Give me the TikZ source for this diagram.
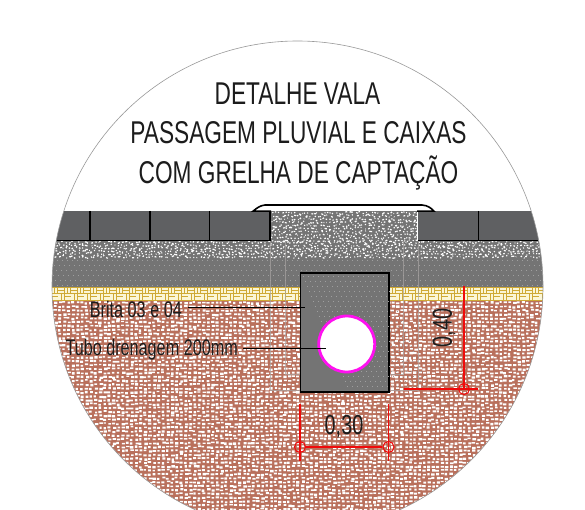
\documentclass[tikz,border=0pt]{standalone}
\usepackage{fontspec}
\setmainfont[FakeStretch=0.72]{Liberation Sans}
\definecolor{soil}{HTML}{B9705C}
\definecolor{paver}{HTML}{5F6062}
\definecolor{concrete}{HTML}{747474}
\definecolor{gold}{HTML}{CFA935}
\definecolor{cream}{HTML}{FBF6D6}
\definecolor{dimred}{HTML}{F00A0A}
\definecolor{pipering}{HTML}{FF10F0}
\definecolor{ghost}{HTML}{A8A4A2}
\definecolor{ink}{HTML}{1C1C1C}
\tikzset{
  heavy/.style={draw=black,line width=1.6pt},
  titletext/.style={font=\fontsize{31.5}{33}\selectfont,text=ink,inner sep=0pt},
  labeltext/.style={font=\fontsize{22.5}{24}\selectfont,text=ink,inner sep=0pt},
  dimtext/.style={font=\fontsize{27.5}{29}\selectfont,text=ink,inner sep=0pt},
  leader/.style={draw=black,line width=0.7pt},
  dimline/.style={draw=dimred,line width=1.7pt},
  ghostline/.style={draw=ghost,line width=0.8pt},
  tick/.style={circle,draw=dimred,line width=1.1pt,minimum size=11pt,inner sep=0pt,fill=none}
}
\begin{document}
\begin{tikzpicture}[x=1pt,y=-1pt]
\useasboundingbox (0,0) rectangle (585,510);
\fill[white] (0,0) rectangle (585,510);
\pgfmathsetseed{11}
\begin{scope}
  \clip (297.5,286.5) circle[radius=245.5pt];
  % soil
  \fill[soil] (40,300) rectangle (550,540);
  \fill[white]
    \foreach \j in {0,...,56} { \foreach \i in {0,...,112} {
      (44+\i*4.5+rnd*1.6,301+\j*3.9+rnd*1.5) rectangle ++({2.2+rnd*1.4},{1.4+rnd*1.1})
    } };
  % concrete and gravel
  \fill[concrete] (40,241) rectangle (550,287);
  \fill[concrete] (271,211) rectangle (417,241);
  \draw[white,line width=1.2pt]
    \foreach \j in {0,...,5} { \foreach \i in {0,...,160} {
      (45+\i*3.2+rnd*2.6,241.5+\j*2.9+rnd*2) -- ++({0.4+rnd*1.5},{-1.1+rnd*2.2})
    } };
  \draw[white,line width=1.2pt]
    \foreach \j in {0,...,9} { \foreach \i in {0,...,45} {
      (271+\i*3.2+rnd*2.6,212+\j*3.1+rnd*2) -- ++({0.4+rnd*1.5},{-1.1+rnd*2.2})
    } };
  \fill[gray!75]
    \foreach \j in {0,...,5} { \foreach \i in {0,...,98} {
      (47+\i*5+\j*2,260+\j*5) rectangle ++(0.9,0.9)
    } };
  % woven band
  \fill[gold] (40,287) rectangle (550,300.6);
  \foreach \i in {0,...,38} {
    \pgfmathsetmacro{\px}{45+\i*13}
    \foreach \c/\dy in {0/0,1/6.4} {
      \pgfmathsetmacro{\qx}{\px+\c*6.5}
      \pgfmathsetmacro{\rx}{\px+6.5-\c*6.5}
      \fill[cream] (\qx+0.2,287.8+\dy) rectangle ++(5.8,2.2);
      \fill[cream] (\qx+0.2,291+\dy) rectangle ++(5.8,2.2);
      \fill[cream] (\rx+0.4,287.8+\dy) rectangle ++(2.2,5.4);
      \fill[cream] (\rx+3.6,287.8+\dy) rectangle ++(2.2,5.4);
    }
  }
  % pavers
  \fill[paver] (40,211) rectangle (269,240.5);
  \fill[paver] (418,211) rectangle (550,240.5);
  \draw[draw=black,line width=1.1pt] (90,211) -- (90,240) (150,211) -- (150,240) (209.5,211) -- (209.5,240) (478.7,211) -- (478.7,240);
  \draw[heavy] (40,240.6) -- (270,240.6) -- (270,211);
  \draw[heavy] (417.5,240.6) -- (539,240.6);
  % ghost reference lines
  \draw[ghostline,opacity=0.7] (270,241) -- (270,390) -- (300,390);
  \draw[ghostline,opacity=0.7] (285,241) -- (285,374) -- (300,374);
  \draw[ghostline,opacity=0.7] (403,241) -- (403,374) -- (388,374);
  \draw[ghostline,opacity=0.7] (418,241) -- (418,390) -- (388,390);
\end{scope}
% circular outline
\draw[draw=gray!80,line width=0.6pt] (297.5,286.5) circle[radius=245.5pt];
% kerb plate
\path[fill=white] (253,211) .. controls (257,208) and (260,205.5) .. (265,205) -- (422,205) .. controls (428,205.5) and (431,208) .. (434,211) -- cycle;
\draw[heavy] (271,211.2) -- (253,211.2) .. controls (257,208) and (260,205.5) .. (265,205) -- (422,205) .. controls (428,205.5) and (431,208) .. (434,211.2) -- (417,211.2);
% box
\node[heavy,fill=concrete,minimum width=88.5pt,minimum height=119pt,inner sep=0pt,anchor=north west] (caixa) at (299.5,272) {};
\fill[gray!75]
  \foreach \j in {0,...,22} { \foreach \i in {0,...,16} {
    (303+\i*5+\j*2,276+\j*5) rectangle ++(0.9,0.9)
  } };
% pipe
\node[circle,draw=pipering,fill=white,line width=2.8pt,minimum size=56pt,inner sep=0pt] (tubo) at (346.7,344) {};
% leaders
\node[labeltext,anchor=east] (brita) at (182,309) {Brita 03 e 04};
\node[labeltext,anchor=east] (drenagem) at (238,349.5) {Tubo drenagem 200mm};
\coordinate (britaend) at (305,307);
\coordinate (tuboend) at (326,348);
\draw[leader] (brita.east |- britaend) ++(6,0) -- (britaend);
\draw[leader] (drenagem.east |- tuboend) ++(5,0) -- (tuboend);
% dimension 0,40
\coordinate (d40top) at (464,286);
\node[tick] (d40c) at (464,389) {};
\coordinate (d40left) at (404,389);
\coordinate (d40right) at (478,389);
\draw[dimline] (d40top) -- (d40c.center);
\draw[dimline] (d40left) -- (d40right);
\node[dimtext,rotate=90] (t40) at (444,328) {0,40};
% dimension 0,30
\node[tick] (d30l) at (300,447) {};
\node[tick] (d30r) at (388.5,447) {};
\coordinate (d30lt) at (300,404);
\coordinate (d30lb) at (300,461);
\coordinate (d30rt) at (388.5,404);
\coordinate (d30rb) at (388.5,461);
\draw[dimline] (d30lt) -- (d30lb);
\draw[dimline] (d30rt) -- (d30rb);
\draw[dimline] (d30l) -- (d30r);
\node[dimtext] (t30) at (344,426.5) {0,30};
% title
\node[titletext] (t1) at (297.5,94) {DETALHE VALA};
\node[titletext] (t2) at (298.5,133) {PASSAGEM PLUVIAL E CAIXAS};
\node[titletext] (t3) at (298.5,173) {COM GRELHA DE CAPTAÇÃO};
\end{tikzpicture}
\end{document}
